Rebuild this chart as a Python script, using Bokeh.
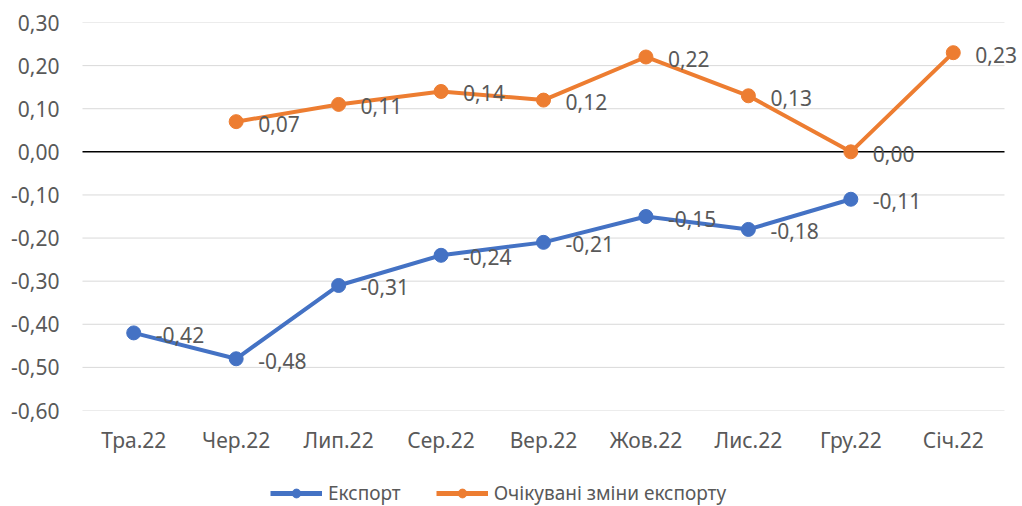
from bokeh.plotting import figure
from bokeh.layouts import column
from bokeh.models import ColumnDataSource, LabelSet, Legend, LegendItem, FactorRange, Range1d, CustomJSTickFormatter, FixedTicker
from bokeh.embed import file_html
from bokeh.resources import INLINE
from bokeh.core.properties import value

months = ["Тра.22", "Чер.22", "Лип.22", "Сер.22", "Вер.22", "Жов.22", "Лис.22", "Гру.22", "Січ.22"]
export_months = ["Тра.22", "Чер.22", "Лип.22", "Сер.22", "Вер.22", "Жов.22", "Лис.22", "Гру.22"]
export_vals = [-0.42, -0.48, -0.31, -0.24, -0.21, -0.15, -0.18, -0.11]
expect_months = ["Чер.22", "Лип.22", "Сер.22", "Вер.22", "Жов.22", "Лис.22", "Гру.22", "Січ.22"]
expect_vals = [0.07, 0.11, 0.14, 0.12, 0.22, 0.13, 0.00, 0.23]
y_ticks = [-0.6, -0.5, -0.4, -0.3, -0.2, -0.1, 0.0, 0.1, 0.2, 0.3]
series_names = ["Експорт", "Очікувані зміни експорту"]

BLUE = "#4472C4"
ORANGE = "#ED7D31"
TXT = "#595959"
FONT = "Noto Sans"

def fmt(v):
    return ("%.2f" % v).replace(".", ",").replace("-0,00", "0,00")

PAD = 0.1757
p = figure(x_range=FactorRange(*months, range_padding=PAD, range_padding_units="absolute"),
           y_range=Range1d(-0.6, 0.3),
           width=1022, height=460, output_backend="svg", toolbar_location=None,
           min_border_left=64, min_border_right=0, min_border_top=22, min_border_bottom=50)
p.outline_line_color = None
p.grid.grid_line_color = None

p.yaxis.ticker = FixedTicker(ticks=y_ticks)
p.yaxis.formatter = CustomJSTickFormatter(code="return tick.toFixed(2).replace('.', ',').replace('-0,00','0,00');")
for ax in (p.xaxis, p.yaxis):
    ax.axis_line_color = None
    ax.major_tick_line_color = None
    ax.minor_tick_line_color = None
    ax.major_tick_out = 0
    ax.major_tick_in = 0
    ax.minor_tick_out = 0
    ax.major_label_text_font = FONT
    ax.major_label_text_font_size = "21px"
    ax.major_label_text_color = TXT
p.yaxis.major_label_standoff = 5
p.xaxis.major_label_standoff = 15

# horizontal gridlines spanning exactly the category band
grid_y = [t for t in y_ticks if t != 0.0]
n = len(grid_y)
p.segment(x0=[(months[0], -0.5)] * n, x1=[(months[-1], 0.5)] * n, y0=grid_y, y1=grid_y,
          line_color="#D9D9D9", line_width=1)
p.segment(x0=[(months[0], -0.5)], x1=[(months[-1], 0.5)], y0=[0.0], y1=[0.0],
          line_color="black", line_width=1.5)

src_e = ColumnDataSource(dict(x=export_months, y=export_vals, t=[fmt(v) for v in export_vals]))
src_o = ColumnDataSource(dict(x=expect_months, y=expect_vals, t=[fmt(v) for v in expect_vals]))

p.line("x", "y", source=src_e, line_color=BLUE, line_width=4)
p.scatter("x", "y", source=src_e, size=14, fill_color=BLUE, line_color=BLUE)
p.line("x", "y", source=src_o, line_color=ORANGE, line_width=4)
p.scatter("x", "y", source=src_o, size=14, fill_color=ORANGE, line_color=ORANGE)

for s in (src_e, src_o):
    p.add_layout(LabelSet(x="x", y="y", text="t", source=s, x_offset=22, y_offset=-2,
                          text_align="left", text_baseline="middle",
                          text_font=value(FONT), text_font_size="21px", text_color=TXT))

# legend strip
lg = figure(width=1022, height=46, output_backend="svg", toolbar_location=None,
            x_range=Range1d(0, 1), y_range=Range1d(0, 1),
            min_border=0, x_axis_location=None, y_axis_location=None)
lg.outline_line_color = None
lg.grid.grid_line_color = None
items = []
for name, col in zip(series_names, [BLUE, ORANGE]):
    r1 = lg.line(x=[5, 6], y=[5, 5], line_color=col, line_width=5)
    r2 = lg.scatter(x=[5], y=[5], size=15, fill_color=col, line_color=col)
    items.append(LegendItem(label=name, renderers=[r1, r2]))
legend = Legend(items=items, orientation="horizontal", location=(206, 0),
                label_text_font=FONT, label_text_font_size="19px", label_text_color=TXT,
                glyph_width=52, glyph_height=22, label_standoff=6, spacing=35,
                border_line_color=None, background_fill_alpha=0, padding=0, margin=0)
lg.add_layout(legend, "center")

layout = column(p, lg, spacing=0)
open("out.html", "w").write(file_html(layout, INLINE))
